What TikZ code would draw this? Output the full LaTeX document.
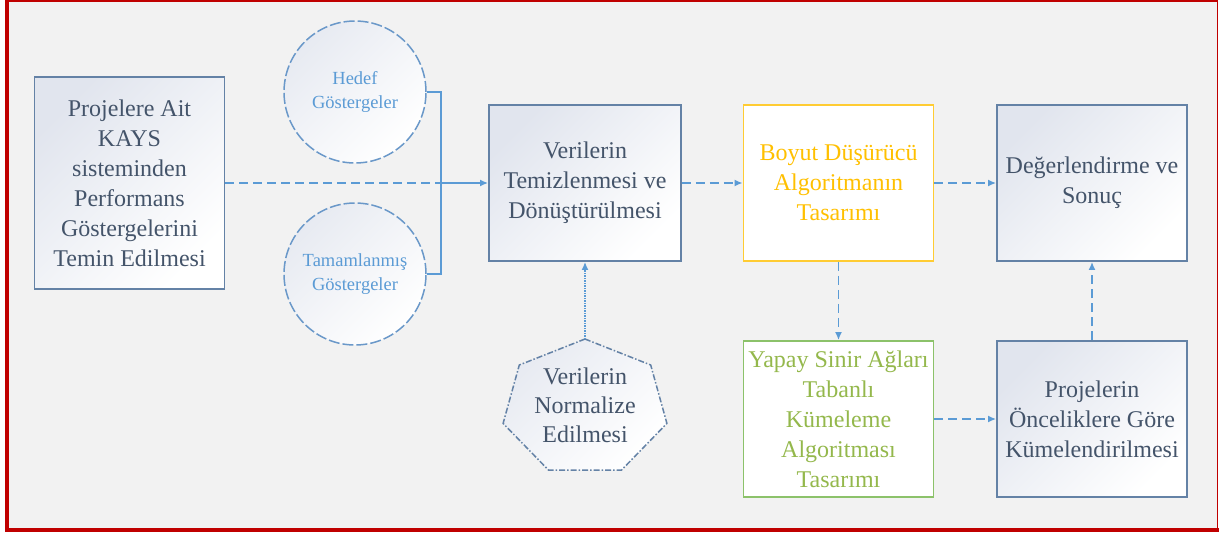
\documentclass[tikz,border=0pt]{standalone}
\usepackage{fontspec}
\setmainfont{Liberation Serif}
\newfontfamily\diafont{Liberation Serif}
\usetikzlibrary{arrows.meta}
\definecolor{framered}{HTML}{C00000}
\definecolor{bgc}{HTML}{F2F2F2}
\definecolor{boxb}{HTML}{6482A6}
\definecolor{boxt}{HTML}{44546A}
\definecolor{conn}{HTML}{5B9BD5}
\definecolor{circb}{HTML}{6A98C9}
\definecolor{gold}{HTML}{FFC000}
\definecolor{goldb}{HTML}{FFCC33}
\definecolor{grnb}{HTML}{8CC26A}
\definecolor{grnt}{HTML}{94B84C}
\definecolor{shadec}{HTML}{E1E5EE}
\tikzset{
  procbox/.style={draw=boxb, line width=1.8pt, top color=shadec, bottom color=white,
    shading angle=45, text=boxt, align=center, font=\diafont\fontsize{24}{30}\selectfont,
    inner sep=0pt, minimum width=190pt, minimum height=156pt},
  plainbox/.style={line width=1.8pt, fill=white, align=center,
    font=\diafont\fontsize{24}{30}\selectfont, inner sep=0pt, minimum width=190pt, minimum height=156pt},
  circbox/.style={circle, draw=circb, line width=1.5pt, dash pattern=on 11pt off 3pt,
    top color=shadec!80, bottom color=white, shading angle=45, text=conn,
    font=\diafont\fontsize{18.5}{24}\selectfont, align=center, inner sep=0pt, minimum size=142pt},
  conline/.style={draw=conn, line width=1.8pt},
  condash/.style={conline, dash pattern=on 9pt off 5pt},
  tip/.style={-{Latex[length=8pt,width=7pt]}},
  hepta/.style={draw=boxb, line width=1.5pt, dash pattern=on 6pt off 2pt on 1.5pt off 2pt,
    top color=shadec!80, bottom color=white, shading angle=45}
}
\begin{document}
\begin{tikzpicture}[x=1pt,y=-1pt]
\useasboundingbox (0,0) rectangle (1219,533);
\fill[white] (0,0) rectangle (1219,533);
\fill[bgc] (7,1) rectangle (1217.5,529);
\draw[framered, line width=1.5pt] (7,0.75) -- (1217.5,0.75) -- (1217.5,530);
\draw[framered, line width=4pt] (7,0) -- (7,530) -- (1218.5,530);

% nodes
\node[procbox, minimum height=212pt] (src) at (129.5,183)
  {Projelere Ait\\KAYS\\sisteminden\\Performans\\Göstergelerini\\Temin Edilmesi};
\node[circbox] (hedef) at (355,92) {Hedef\\Göstergeler};
\node[circbox] (tam) at (355,274) {Tamamlanmış\\Göstergeler};
\node[procbox, minimum width=192pt] (ver) at (585,183)
  {Verilerin\\Temizlenmesi ve\\Dönüştürülmesi};
\node[plainbox, draw=goldb, text=gold] (boyut) at (838.5,183)
  {Boyut Düşürücü\\Algoritmanın\\Tasarımı};
\node[procbox] (deg) at (1092,183) {Değerlendirme ve\\Sonuç};
\node[plainbox, draw=grnb, text=grnt] (yapay) at (838.5,419)
  {Yapay Sinir Ağları\\Tabanlı\\Kümeleme\\Algoritması\\Tasarımı};
\node[procbox] (proj) at (1092,419)
  {Projelerin\\Önceliklere Göre\\Kümelendirilmesi};

% heptagon
\draw[hepta] (585,339) -- (519.3,365.0) -- (503.1,423.4) -- (548.6,470.2)
  -- (621.4,470.2) -- (666.9,423.4) -- (650.7,365.0) -- cycle;
\coordinate (htop) at (585,339);
\node[text=boxt, align=center, font=\diafont\fontsize{24}{29}\selectfont, inner sep=0pt] (norm)
  at (585,405) {Verilerin\\Normalize\\Edilmesi};

% connectors
\coordinate (bj) at (441,183);
\draw[conline] (hedef.east) -| (bj) |- (tam.east);
\draw[condash] (src.east) -- (bj);
\draw[conline, tip] (bj) -- (ver.west);
\draw[condash, tip] (ver.east) -- (boyut.west);
\draw[condash, tip] (boyut.east) -- (deg.west);
\draw[condash, tip] (boyut.south) -- (yapay.north);
\draw[condash, tip] (yapay.east) -- (proj.west);
\draw[condash, tip] (proj.north) -- (deg.south);
\draw[conline, dash pattern=on 1.5pt off 1pt, tip] (htop) -- (ver.south);
\end{tikzpicture}
\end{document}
